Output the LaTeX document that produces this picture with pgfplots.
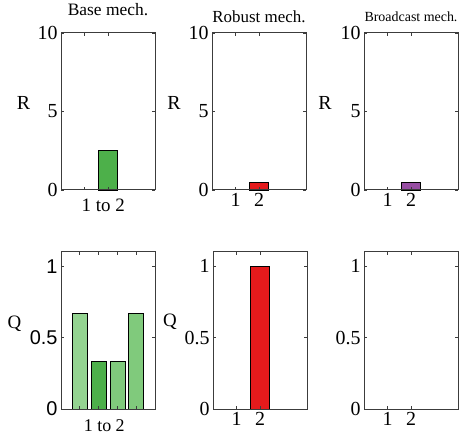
\documentclass[border=0pt]{standalone}
\usepackage{fontspec}
\setmainfont{Liberation Serif}
\newfontfamily\arial{Liberation Sans}
\usepackage{pgfplots}
\pgfplotsset{compat=1.18}
\definecolor{axgray}{RGB}{60,60,60}
\definecolor{gmid}{RGB}{77,176,74}
\definecolor{glight}{RGB}{148,212,145}
\definecolor{glight2}{RGB}{128,202,124}
\definecolor{rred}{RGB}{228,26,28}
\definecolor{ppurple}{RGB}{152,78,163}
\pgfplotsset{
  matlab/.style={
    scale only axis, width=94bp, height=157bp,
    axis line style={axgray, line width=1bp},
    tick style={axgray, line width=0.8bp},
    major tick length=3bp,
    tick align=inside, xtick pos=both, ytick pos=both,
    /pgf/number format/assume math mode=true,
    tick label style={font=\fontsize{20}{20}\selectfont},
    axis on top,
    clip=false,
  },
  barp/.style={ybar, bar shift=0pt, draw=black, line width=0.7bp},
}
\begin{document}
\begin{tikzpicture}
\path[use as bounding box] (0bp,0bp) rectangle (464bp,439bp);
% ---------- top row ----------
\begin{axis}[matlab, at={(61bp,249bp)}, anchor=south west,
  xmin=0, xmax=4, ymin=0, ymax=10, ytick={0,5,10}, xtick={1,2}, xticklabels={}]
\addplot[barp, fill=gmid, bar width=0.8] coordinates {(2,2.5)};
\node[font=\fontsize{17.5}{17.5}\selectfont, anchor=base] at (rel axis cs:0.5,1) [yshift=17bp] {Base mech.};
\node[font=\fontsize{20}{20}\selectfont] at (rel axis cs:0,0.557) [xshift=-37.5bp] {R};
\node[font=\fontsize{19}{19}\selectfont, anchor=north] at (axis cs:1.8,0) [yshift=-5bp] {1 to 2};
\end{axis}
\begin{axis}[matlab, at={(212bp,249bp)}, anchor=south west,
  xmin=0, xmax=4, ymin=0, ymax=10, ytick={0,5,10}, xtick={1,2}]
\addplot[barp, fill=rred, bar width=0.8] coordinates {(2,0.5)};
\node[font=\fontsize{17}{17}\selectfont, anchor=base] at (rel axis cs:0.5,1) [yshift=10bp] {Robust mech.};
\node[font=\fontsize{20}{20}\selectfont] at (rel axis cs:0,0.557) [xshift=-38bp] {R};
\end{axis}
\begin{axis}[matlab, at={(364bp,249bp)}, anchor=south west,
  xmin=0, xmax=4, ymin=0, ymax=10, ytick={0,5,10}, xtick={1,2}]
\addplot[barp, fill=ppurple, bar width=0.8] coordinates {(2,0.5)};
\node[font=\fontsize{14}{14}\selectfont, anchor=base] at (rel axis cs:0.5,1) [yshift=11bp] {Broadcast mech.};
\node[font=\fontsize{20}{20}\selectfont] at (rel axis cs:0,0.557) [xshift=-39bp] {R};
\end{axis}
% ---------- bottom row ----------
\begin{axis}[matlab, at={(61bp,30bp)}, anchor=south west,
  xmin=0, xmax=5, ymin=0, ymax=1.1, ytick={0,0.5,1}, yticklabels={0,0.5,1},
  xtick={1,2,3,4}, xticklabels={},
  yticklabel style={font=\arial\fontsize{20}{20}\selectfont}]
\addplot[barp, fill=glight, bar width=0.8] coordinates {(1,0.6667)};
\addplot[barp, fill=gmid, bar width=0.8] coordinates {(2,0.3333)};
\addplot[barp, fill=glight2, bar width=0.8] coordinates {(3,0.3333)};
\addplot[barp, fill=glight2, bar width=0.8] coordinates {(4,0.6667)};
\node[font=\fontsize{19}{19}\selectfont] at (rel axis cs:0,0.545) [xshift=-46.5bp] {Q};
\node[font=\fontsize{18}{18}\selectfont, anchor=north] at (axis cs:2.3,0) [yshift=-7bp] {1 to 2};
\end{axis}
\begin{axis}[matlab, at={(213bp,30bp)}, anchor=south west,
  xmin=0, xmax=4, ymin=0, ymax=1.1, ytick={0,0.5,1}, yticklabels={0,0.5,1}, xtick={1,2}]
\addplot[barp, fill=rred, bar width=0.8] coordinates {(2,1)};
\node[font=\fontsize{19}{19}\selectfont] at (rel axis cs:0,0.554) [xshift=-43bp] {Q};
\end{axis}
\begin{axis}[matlab, at={(364bp,30bp)}, anchor=south west,
  xmin=0, xmax=4, ymin=0, ymax=1.1, ytick={0,0.5,1}, yticklabels={0,0.5,1}, xtick={1,2}]
\addplot[draw=none] coordinates {(2,0)};
\end{axis}
\end{tikzpicture}
\end{document}
